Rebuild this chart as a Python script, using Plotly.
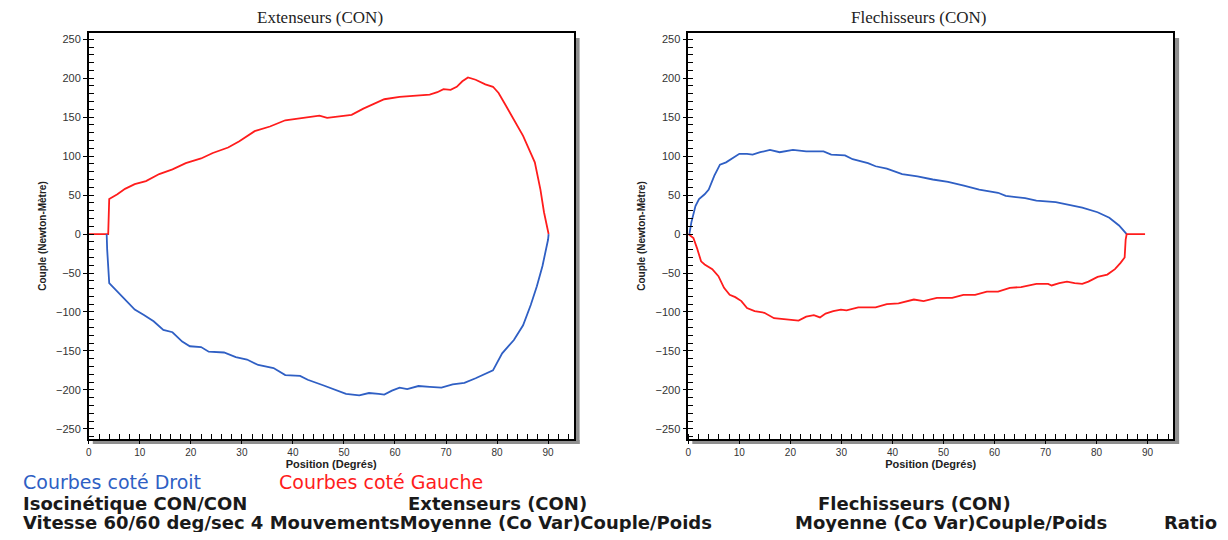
import plotly.graph_objects as go

# The page body adds an 8px margin, so the figure is drawn 16px smaller and
# every page-pixel position below is shifted by that margin.
PAGE_MARGIN = 8
W, H = 1228 - 2 * PAGE_MARGIN, 540 - 2 * PAGE_MARGIN

# ---------------- data ----------------
ext_gauche_x = [0, 3.8, 4.0, 5.6, 7.1, 9.0, 11.2, 13.8, 16.4, 19.0, 22.0, 24.3, 27.3, 29.5, 32.5, 35.5,
                38.5, 40.7, 43.0, 45.2, 46.7, 48.9, 51.5, 53.8, 56.0, 57.9, 60.9, 63.9, 66.8, 68.3,
                69.5, 70.9, 72.1, 73.2, 74.3, 75.8, 77.7, 79.2, 80.3, 81.8, 83.6, 85.1, 86.6, 87.4,
                88.5, 89.2, 90.1]
ext_gauche_y = [0, 0, 45, 51, 58, 64, 68, 77, 83, 91, 97, 104, 111, 119, 132, 138,
                146, 148, 150, 152, 149, 151, 153, 161, 167, 173, 176, 178, 179, 182,
                186, 185, 189, 196, 201, 198, 192, 189, 181, 164, 143, 126, 104, 92,
                57, 28, 0]

ext_droit_x = [3.5, 3.6, 4.0, 5.2, 7.1, 9.0, 10.8, 12.7, 14.6, 16.4, 18.3, 19.8, 22.0, 23.5, 26.5,
               28.8, 31.0, 33.2, 36.2, 38.5, 41.4, 42.9, 45.9, 48.2, 50.4, 53.0, 54.9, 56.8, 57.9,
               59.4, 60.9, 62.4, 64.6, 66.8, 69.1, 71.3, 73.6, 75.8, 77.7, 79.2, 81.0, 83.3, 85.1,
               86.6, 87.8, 88.9, 90.0, 90.1]
ext_droit_y = [0, -20, -63, -71, -84, -97, -104, -112, -123, -126, -138, -144, -145, -151, -152,
               -158, -161, -168, -172, -181, -182, -187, -194, -200, -205, -207, -204, -205, -206,
               -201, -197, -199, -195, -196, -197, -193, -191, -185, -179, -175, -153, -136, -117,
               -91, -67, -41, -7, 0]

fle_droit_x = [0.2, 0.6, 1.4, 2.1, 3.2, 4.0, 5.1, 6.2, 7.4, 8.9, 10.0, 11.5, 12.6, 14.1, 16.0, 17.9,
               20.5, 23.1, 26.5, 28.0, 30.7, 32.2, 35.2, 36.7, 38.9, 41.9, 44.9, 47.9, 50.9, 54.0,
               57.0, 60.7, 62.2, 66.0, 68.2, 72.0, 75.0, 77.2, 80.2, 82.5, 84.4, 85.5, 85.9]
fle_droit_y = [0, 15, 36, 45, 51, 57, 75, 89, 92, 98, 103, 103, 102, 105, 108, 105,
               108, 106, 106, 102, 101, 96, 91, 87, 84, 77, 74, 70, 67, 62,
               57, 53, 49, 46, 43, 41, 37, 34, 28, 21, 11, 2, 0]

fle_gauche_x = [0, 1.0, 1.7, 2.5, 3.2, 4.7, 5.9, 7.0, 8.1, 9.2, 10.4, 11.5, 13.0, 14.9, 16.8, 18.7,
                20.5, 21.6, 23.1, 24.6, 25.8, 26.9, 28.4, 29.9, 31.0, 33.3, 36.7, 38.9, 41.2, 44.2,
                46.1, 48.7, 51.7, 53.9, 56.2, 58.5, 60.7, 63.0, 65.2, 68.2, 70.5, 71.2, 72.7, 74.2,
                75.7, 77.2, 78.4, 80.2, 82.1, 83.6, 84.7, 85.5, 85.7, 85.9, 89.5]
fle_gauche_y = [0, -5, -18, -35, -39, -45, -54, -69, -78, -81, -86, -95, -99, -101, -108, -109,
                -110, -111, -106, -104, -107, -102, -99, -97, -98, -94, -94, -90, -89, -84,
                -86, -82, -82, -78, -78, -74, -74, -69, -68, -64, -64, -66, -63, -61,
                -63, -64, -61, -55, -52, -45, -37, -30, -7, 0, 0]

chart_titles = ["Extenseurs (CON)", "Flechisseurs (CON)"]
x_title = "Position (Degrés)"
y_title = "Couple (Newton-Mètre)"
legend_droit = "Courbes coté Droit"
legend_gauche = "Courbes coté Gauche"
info_lines = [
    ("Isocinétique CON/CON", 18, 503),
    ("Extenseurs (CON)", 404, 503),
    ("Flechisseurs (CON)", 815, 503),
    ("Vitesse 60/60 deg/sec 4 MouvementsMoyenne (Co Var)Couple/Poids", 18, 522),
    ("Moyenne (Co Var)Couple/Poids", 792, 522),
    ("Ratio", 1162, 522),
]

BLUE = "#2f5fc4"
RED = "#ff1c1c"

# ---------------- figure ----------------
fig = go.Figure()

fig.add_trace(go.Scatter(x=ext_gauche_x, y=ext_gauche_y, mode="lines",
                         line=dict(color=RED, width=1.8), xaxis="x", yaxis="y", showlegend=False))
fig.add_trace(go.Scatter(x=ext_droit_x, y=ext_droit_y, mode="lines",
                         line=dict(color=BLUE, width=1.8), xaxis="x", yaxis="y", showlegend=False))
fig.add_trace(go.Scatter(x=fle_droit_x, y=fle_droit_y, mode="lines",
                         line=dict(color=BLUE, width=1.8), xaxis="x2", yaxis="y2", showlegend=False))
fig.add_trace(go.Scatter(x=fle_gauche_x, y=fle_gauche_y, mode="lines",
                         line=dict(color=RED, width=1.8), xaxis="x2", yaxis="y2", showlegend=False))


def px_x(p):
    return (p - PAGE_MARGIN) / W


def px_y(p):
    return 1 - (p - PAGE_MARGIN) / H


L1, R1 = 86, 572
L2, R2 = 687, 1173
TOP, BOT = 33, 439

tickfont = dict(family="Liberation Sans, Arial", size=10, color="#333")
common_x = dict(range=[0, 95], dtick=10, tick0=0, ticks="outside", ticklen=3, tickwidth=1,
                tickcolor="#000", showline=True, linecolor="#000", linewidth=1.5, mirror=True,
                showgrid=False, zeroline=False, tickfont=tickfont,
                minor=dict(dtick=2, ticks="inside", ticklen=5, tickcolor="#000", tickwidth=1),
                title=dict(text=x_title, font=dict(family="Liberation Sans, Arial", size=11,
                                                   color="#222", weight="bold"), standoff=0))
common_y = dict(range=[-263, 258], dtick=50, tick0=0, ticks="outside", ticklen=4, tickwidth=1,
                tickcolor="#000", showline=True, linecolor="#000", linewidth=1.5, mirror=True,
                showgrid=False, zeroline=False, tickfont=dict(tickfont, size=11),
                minor=dict(dtick=10, ticks="inside", ticklen=5, tickcolor="#000", tickwidth=1),
                title=dict(text=y_title, font=dict(family="Liberation Sans, Arial", size=10,
                                                   color="#222", weight="bold"), standoff=8))

fig.update_layout(
    width=W, height=H,
    margin=dict(l=0, r=0, t=0, b=0),
    paper_bgcolor="white", plot_bgcolor="white",
    xaxis=dict(common_x, domain=[px_x(L1), px_x(R1)], anchor="y"),
    yaxis=dict(common_y, domain=[px_y(BOT), px_y(TOP)], anchor="x"),
    xaxis2=dict(common_x, domain=[px_x(L2), px_x(R2)], anchor="y2"),
    yaxis2=dict(common_y, domain=[px_y(BOT), px_y(TOP)], anchor="x2"),
)

# drop shadows on right and bottom of each frame
shapes = []
for l, r in [(L1, R1), (L2, R2)]:
    shapes.append(dict(type="rect", xref="paper", yref="paper",
                       x0=px_x(r + 1), x1=px_x(r + 6), y0=px_y(BOT + 5), y1=px_y(TOP + 5),
                       fillcolor="#8f8f8f", line=dict(width=0), layer="below"))
    shapes.append(dict(type="rect", xref="paper", yref="paper",
                       x0=px_x(l + 4), x1=px_x(r + 6), y0=px_y(BOT + 5), y1=px_y(BOT + 1),
                       fillcolor="#8f8f8f", line=dict(width=0), layer="below"))
fig.update_layout(shapes=shapes)

annotations = []
for t, cx in zip(chart_titles, [318, 918]):
    annotations.append(dict(text=t, x=px_x(cx), y=px_y(18), xref="paper", yref="paper",
                            xanchor="center", yanchor="middle", showarrow=False,
                            font=dict(family="Liberation Serif, Times New Roman", size=17, color="#222")))

big = "DejaVu Sans, Liberation Sans, Arial"
annotations.append(dict(text=legend_droit, x=px_x(18), y=px_y(482), xref="paper", yref="paper",
                        xanchor="left", yanchor="middle", showarrow=False,
                        font=dict(family=big, size=19, color=BLUE)))
annotations.append(dict(text=legend_gauche, x=px_x(275), y=px_y(482), xref="paper", yref="paper",
                        xanchor="left", yanchor="middle", showarrow=False,
                        font=dict(family=big, size=19, color=RED)))
for t, x0, y0 in info_lines:
    annotations.append(dict(text="<b>" + t + "</b>", x=px_x(x0), y=px_y(y0), xref="paper", yref="paper",
                            xanchor="left", yanchor="middle", showarrow=False,
                            font=dict(family=big, size=18, color="#1a1a1a")))
fig.update_layout(annotations=annotations)

fig.write_html("out.html")
